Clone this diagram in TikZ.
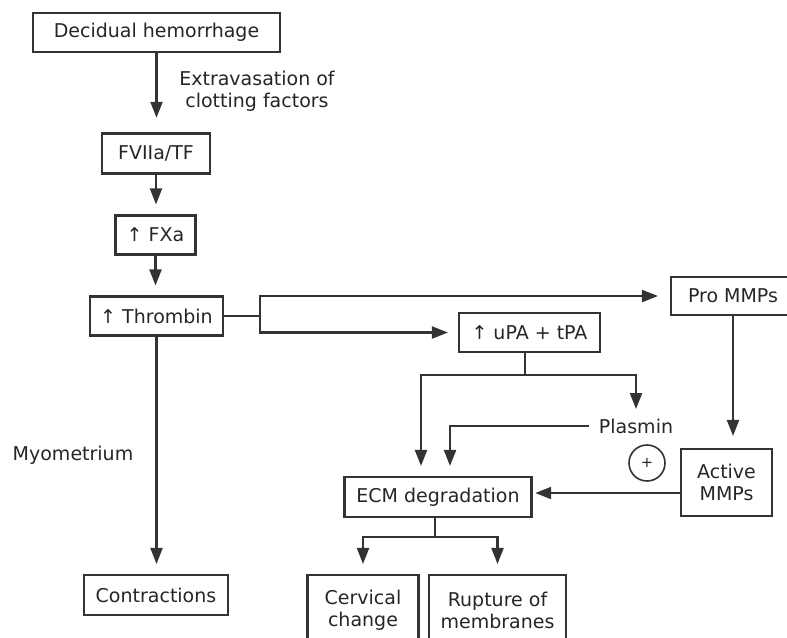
\documentclass[tikz,border=0pt]{standalone}
\usepackage{fontspec}
\setmainfont{DejaVu Sans}
\usetikzlibrary{arrows.meta,calc}
\tikzset{
	box/.style={draw=black!80, line width=1.6pt, text=black!85, inner sep=1pt, align=center},
	arr/.style={draw=black!80, line width=1.6pt, -{Triangle[length=12pt,width=9pt]}, shorten >=7.5pt},
	bus/.style={draw=black!80, line width=1.6pt},
	lbl/.style={text=black!85, align=center, inner sep=0pt}
}

\begin{document}
\begin{tikzpicture}[x=0.75pt, y=-0.75pt, font=\fontsize{14.25}{16.5}\selectfont]
		%%%%% START %%%%%
		
		\clip (0,0) rectangle (787,637);
		\fill[white] (0,0) rectangle (787,637);
		
		% left column
		\node[box, minimum width=185.25pt, minimum height=29.25pt] (dec) at (156.5,32.5) {Decidual hemorrhage};
		\node[box, minimum width=81pt, minimum height=30pt] (fvii) at (156,153.5) {FVIIa/TF};
		\node[box, minimum width=60pt, minimum height=29.25pt] (fxa) at (155.5,235) {↑ FXa};
		\node[box, minimum width=99.75pt, minimum height=29.25pt] (thr) at (156.5,316) {↑ Thrombin};
		\node[box, minimum width=108pt, minimum height=30pt] (cont) at (156,595) {Contractions};
		
		\node[lbl] (extr) at (257,91) {Extravasation of\\clotting factors};
		\node[lbl] (myo) at (73,455) {Myometrium};
		
		% right part
		\node[box, minimum width=93pt, minimum height=28.5pt] (pro) at (733,296) {Pro MMPs};
		\node[box, minimum width=105.75pt, minimum height=29.25pt] (upa) at (529.5,332.5) {↑ uPA + tPA};
		\node[lbl, inner xsep=7.5pt, inner ysep=2pt] (plas) at (636,426) {Plasmin};
		\node[draw=black!80, line width=1.2pt, circle, minimum size=27pt, inner sep=0pt, text=black!85, font=\fontsize{11}{11}\selectfont] (plus) at (647,463) {+};
		\node[box, minimum width=68.25pt, minimum height=50.25pt] (act) at (726.5,482.5) {Active\\MMPs};
		\node[box, minimum width=140.25pt, minimum height=30pt] (ecm) at (438,497) {ECM degradation};
		\node[box, minimum width=83.25pt, minimum height=52.5pt] (cerv) at (363,610) {Cervical\\change};
		\node[box, minimum width=102.75pt, minimum height=52.5pt] (rupt) at (497.5,610) {Rupture of\\membranes};
		
		\coordinate (jt) at (260,316);
		\coordinate (ju) at (525,375);
		\coordinate (je) at (435,537);
		\coordinate (am) at ($(act.west)+(0,10.5)$);
		
		% arrows
		\draw[arr, shorten >=11pt] (dec.south) -- (dec.south |- fvii.north);
		\draw[arr] (fvii.south) -- (fvii.south |- fxa.north);
		\draw[arr] (fxa.south) -- (fxa.south |- thr.north);
		\draw[arr] (thr.south) -- (thr.south |- cont.north);
		
		\draw[bus] (thr.east) -- (jt);
		\draw[arr, shorten >=9pt] (jt) |- (pro.west);
		\draw[arr] (jt) |- (upa.west);
		
		\draw[bus] (upa.south -| ju) -- (ju);
		\draw[arr] (ju) -| ($(ecm.north)+(-17,0)$);
		\draw[arr, shorten >=5pt] (ju) -| (plas.north);
		\draw[arr] (plas.west) -| ($(ecm.north)+(12,0)$);
		
		\draw[arr, shorten >=9pt] (pro.south) -- (pro.south |- act.north);
		\draw[arr, shorten >=2pt] (am) -- (am -| ecm.east);
		
		\draw[bus] (ecm.south -| je) -- (je);
		\draw[arr] (je) -| (cerv.north);
		\draw[arr] (je) -| (rupt.north);
		
		%%%%% END %%%%%
\end{tikzpicture}
\end{document}
